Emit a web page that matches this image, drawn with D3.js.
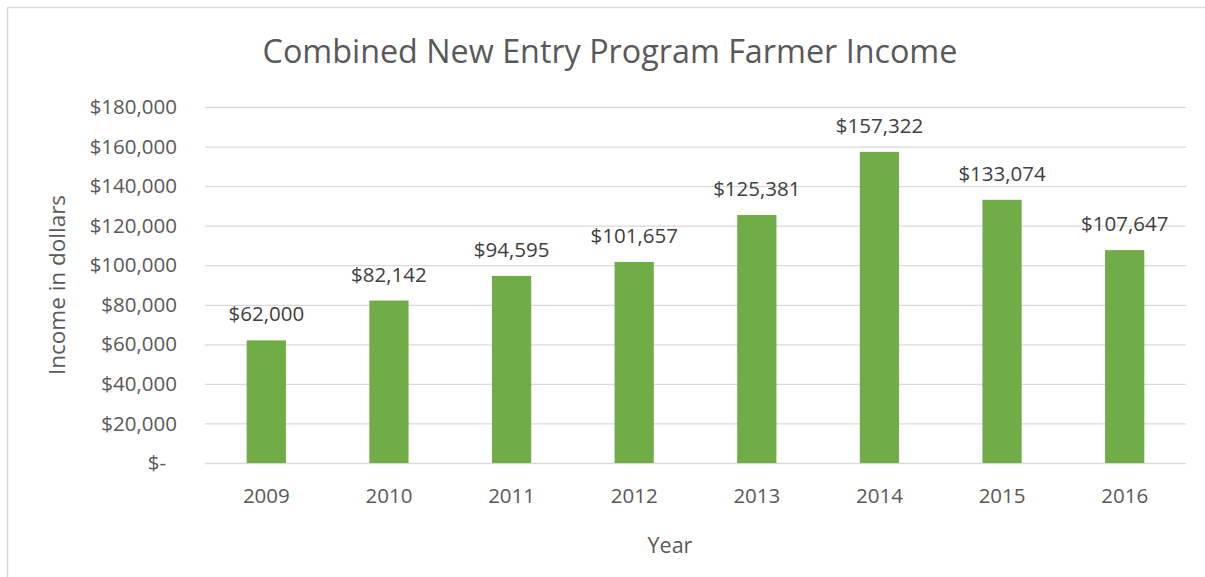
<!DOCTYPE html>
<html>
<head>
<meta charset="utf-8">
<script src="https://cdn.jsdelivr.net/npm/d3@7"></script>
<style>
  body { margin: 0; background: #fff; }
  text { font-family: "Open Sans", sans-serif; }
</style>
</head>
<body>
<div id="chart-container"></div>
<script>
// data uit de grafiek
const years = ['2009', '2010', '2011', '2012', '2013', '2014', '2015', '2016']
const incomes = [62000, 82142, 94595, 101657, 125381, 157322, 133074, 107647]
const yTicks = [0, 20000, 40000, 60000, 80000, 100000, 120000, 140000, 160000, 180000]

const chartTitle = 'Combined New Entry Program Farmer Income'
const xTitle = 'Year'
const yTitle = 'Income in dollars'

const width = 1205
const height = 577
const margin = { top: 107, right: 19, bottom: 114, left: 205 }
const innerWidth = width - margin.left - margin.right
const innerHeight = height - margin.top - margin.bottom

const data = years.map((y, i) => ({ key: y, value: incomes[i] }))

const svg = d3.select('#chart-container')
    .append('svg')
    .attr('width', width)
    .attr('height', height)

// rand om de grafiek
svg.append('rect')
    .attr('x', 7.5)
    .attr('y', 7.5)
    .attr('width', width + 10)
    .attr('height', height + 10)
    .attr('fill', 'none')
    .attr('stroke', '#d9d9d9')
    .attr('stroke-width', 1.5)

const g = svg.append('g')
    .attr('transform', `translate(${margin.left}, ${margin.top})`)

// bars nemen ongeveer een derde van elke categorie in
const xScale = d3.scaleBand()
    .domain(years)
    .range([0, innerWidth])
    .paddingInner(0.68)
    .paddingOuter(0.34)

const yScale = d3.scaleLinear()
    .domain([0, 180000])
    .range([innerHeight, 0])

const money = d3.format(',')

// y as met gridlines
const yAxis = g.append('g')
    .attr('class', 'axis-y')
    .call(d3.axisLeft(yScale)
        .tickValues(yTicks)
        .tickSize(-innerWidth)
        .tickPadding(28)
        .tickFormat(d => d === 0 ? '$-' : '$' + money(d)))

yAxis.select('.domain').remove()
yAxis.selectAll('line')
    .attr('stroke', '#d9d9d9')
    .attr('stroke-width', 1.3)
yAxis.selectAll('text')
    .attr('fill', '#595959')
    .style('font-size', '20.5px')
    .attr('dx', d => d === 0 ? -11 : 0)

// x as
const xAxis = g.append('g')
    .attr('class', 'axis-x')
    .attr('transform', `translate(0, ${innerHeight})`)
    .call(d3.axisBottom(xScale).tickSize(0).tickPadding(25))

xAxis.select('.domain').remove()
xAxis.selectAll('text')
    .attr('fill', '#595959')
    .style('font-size', '20.5px')

// bars
g.selectAll('.bar')
    .data(data)
    .enter()
    .append('rect')
    .attr('class', 'bar')
    .attr('x', d => xScale(d.key))
    .attr('y', d => yScale(d.value))
    .attr('width', xScale.bandwidth())
    .attr('height', d => innerHeight - yScale(d.value))
    .attr('fill', '#70ad47')

// labels boven de bars
g.selectAll('.label')
    .data(data)
    .enter()
    .append('text')
    .attr('class', 'label')
    .attr('x', d => xScale(d.key) + xScale.bandwidth() / 2)
    .attr('y', d => yScale(d.value) - 19)
    .attr('text-anchor', 'middle')
    .attr('fill', '#404040')
    .style('font-size', '20.5px')
    .text(d => '$' + money(d.value))

// titel
svg.append('text')
    .attr('x', 610)
    .attr('y', 63)
    .attr('text-anchor', 'middle')
    .attr('fill', '#595959')
    .style('font-size', '32.3px')
    .text(chartTitle)

// as titels
svg.append('text')
    .attr('x', 670)
    .attr('y', 553)
    .attr('text-anchor', 'middle')
    .attr('fill', '#595959')
    .style('font-size', '21.5px')
    .text(xTitle)

svg.append('text')
    .attr('transform', 'rotate(-90)')
    .attr('x', -285)
    .attr('y', 65)
    .attr('text-anchor', 'middle')
    .attr('fill', '#595959')
    .style('font-size', '22.5px')
    .text(yTitle)
</script>
</body>
</html>
